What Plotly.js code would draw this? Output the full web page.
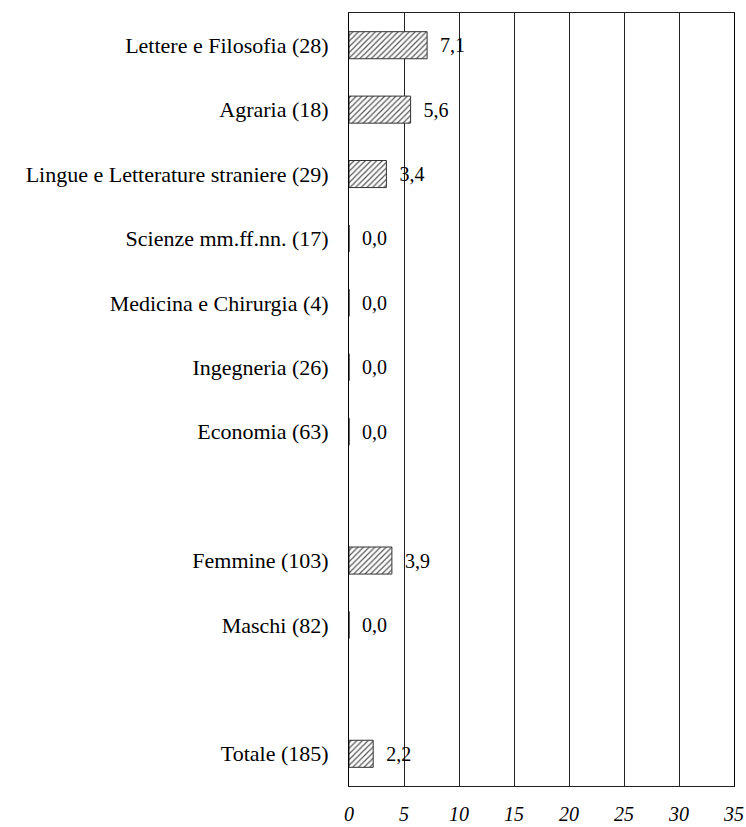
<!DOCTYPE html>
<html>
<head>
<meta charset="utf-8">
<script src="https://cdn.plot.ly/plotly-3.0.1.min.js"></script>
<style>html,body{margin:0;padding:0;background:#fff;}#chart{width:746px;height:827px;}</style>
</head>
<body>
<div id="chart"></div>
<script>
// Categories (blank strings are empty separator rows)
var categories = [
  "Lettere e Filosofia (28)",
  "Agraria (18)",
  "Lingue e Letterature straniere (29)",
  "Scienze mm.ff.nn. (17)",
  "Medicina e Chirurgia (4)",
  "Ingegneria (26)",
  "Economia (63)",
  " ",
  "Femmine (103)",
  "Maschi (82)",
  "  ",
  "Totale (185)"
];
var values = [7.1, 5.6, 3.4, 0.0, 0.0, 0.0, 0.0, null, 3.9, 0.0, null, 2.2];
var xTicks = [0, 5, 10, 15, 20, 25, 30, 35];

var FONT = "'Liberation Serif', 'Times New Roman', Times, 'DejaVu Serif', serif";

var trace = {
  type: 'bar',
  orientation: 'h',
  y: categories,
  x: values,
  texttemplate: '\u00a0\u00a0%{x:.1f}',
  textposition: 'outside',
  cliponaxis: false,
  textfont: {family: FONT, size: 20, color: '#000'},
  marker: {
    color: '#fff',
    line: {color: '#333', width: 1},
    pattern: {shape: '/', fgcolor: '#555', bgcolor: '#fff', size: 4, solidity: 0.3, fillmode: 'replace'}
  },
  hoverinfo: 'skip'
};

var layout = {
  width: 746,
  height: 827,
  margin: {l: 349, r: 12, t: 13, b: 41, pad: 0},
  paper_bgcolor: '#fff',
  plot_bgcolor: '#fff',
  separators: ',.',
  showlegend: false,
  bargap: 0.58,
  font: {family: FONT, color: '#000'},
  xaxis: {
    range: [0, 35],
    tickvals: xTicks,
    ticktext: xTicks.map(String),
    showgrid: true,
    gridcolor: '#222',
    gridwidth: 1,
    zeroline: false,
    showline: true,
    linecolor: '#222',
    linewidth: 1,
    mirror: true,
    ticks: '',
    ticklabelstandoff: 10,
    tickfont: {family: FONT, size: 20, style: 'italic', color: '#000'},
    fixedrange: true
  },
  yaxis: {
    type: 'category',
    categoryorder: 'array',
    categoryarray: categories,
    autorange: 'reversed',
    showgrid: false,
    zeroline: false,
    showline: true,
    linecolor: '#000',
    linewidth: 1,
    mirror: true,
    ticks: '',
    ticklabelstandoff: 15,
    tickfont: {family: FONT, size: 22, color: '#000'},
    fixedrange: true
  }
};

Plotly.newPlot('chart', [trace], layout, {displayModeBar: false, staticPlot: true});
</script>
</body>
</html>
